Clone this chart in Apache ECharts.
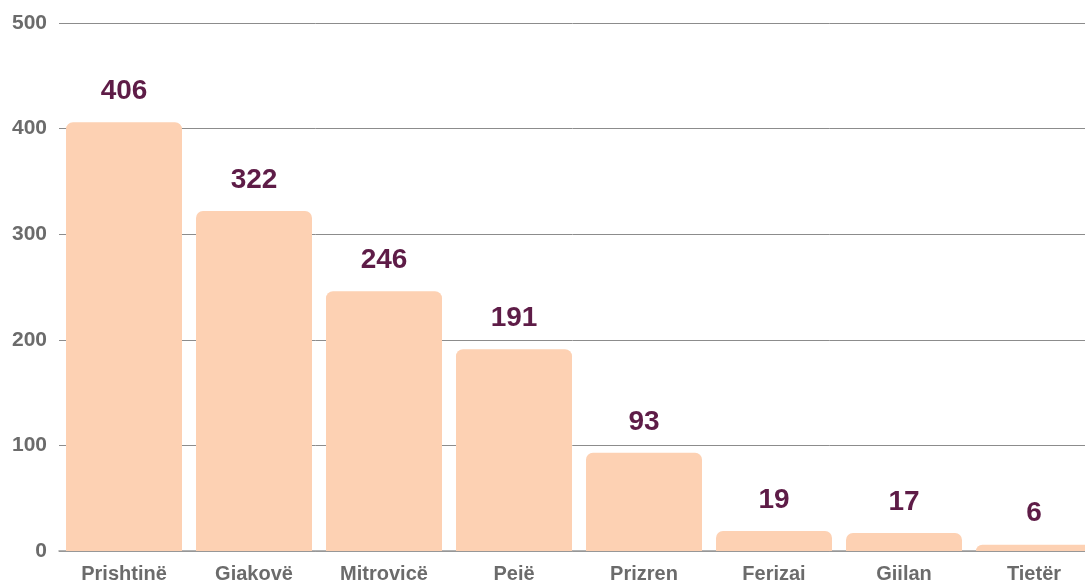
<!DOCTYPE html>
<html>
<head>
<meta charset="utf-8">
<script src="https://cdn.jsdelivr.net/npm/echarts@6/dist/echarts.min.js"></script>
<style>
  html, body { margin: 0; padding: 0; background: #fff; }
  #chart { width: 1085px; height: 581px; }
</style>
</head>
<body>
<div id="chart"></div>
<script>
// categories and values
var cities = ['Prishtinë', 'Giakovë', 'Mitrovicë', 'Peië', 'Prizren', 'Ferizai', 'Giilan', 'Tietër'];
var counts = [406, 322, 246, 191, 93, 19, 17, 6];
var yTicks = { min: 0, max: 500, interval: 100 };

var chart = echarts.init(document.getElementById('chart'));

var option = {
  animation: false,
  grid: {
    left: 59,
    top: 23,
    width: 1040,
    bottom: 30,
    outerBoundsMode: 'none'
  },
  xAxis: {
    type: 'category',
    data: cities,
    axisTick: { show: false },
    axisLine: { lineStyle: { color: '#9a9a9a', width: 1.5 } },
    axisLabel: {
      margin: 13,
      color: '#6b6b6b',
      fontSize: 20,
      fontWeight: 'bold',
      fontFamily: 'Liberation Sans, Arial, sans-serif'
    }
  },
  yAxis: {
    type: 'value',
    min: yTicks.min,
    max: yTicks.max,
    interval: yTicks.interval,
    axisLine: { show: false },
    axisTick: { show: false },
    axisLabel: {
      margin: 12,
      color: '#6b6b6b',
      fontSize: 21,
      fontWeight: 'bold',
      fontFamily: 'Liberation Sans, Arial, sans-serif'
    },
    splitLine: { lineStyle: { color: '#8c8c8c', width: 1 } }
  },
  series: [
    {
      type: 'bar',
      data: counts,
      barWidth: 116,
      itemStyle: {
        color: '#fdd1b3',
        borderRadius: [7, 7, 0, 0]
      },
      label: {
        show: true,
        position: 'top',
        distance: 17,
        color: '#5e1c47',
        fontSize: 28,
        fontWeight: 'bold',
        fontFamily: 'Liberation Sans, Arial, sans-serif'
      }
    }
  ]
};

chart.setOption(option);
</script>
</body>
</html>
